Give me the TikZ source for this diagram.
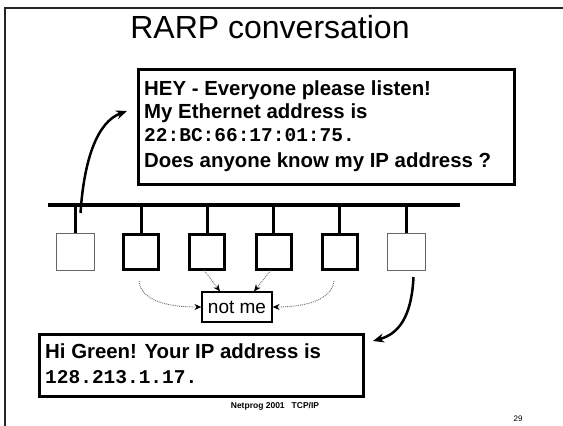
\documentclass[tikz,border=0pt]{standalone}
\usepackage{fontspec}
\setmainfont{Liberation Sans}
\setmonofont{Liberation Mono}
\usetikzlibrary{arrows.meta}
\begin{document}
\begin{tikzpicture}[x=1pt,y=-1pt,
  txt/.style={font=\fontsize{20.4}{24}\selectfont\bfseries, inner sep=0pt, anchor=base west},
  mono/.style={font=\fontsize{19.5}{24}\selectfont\ttfamily\bfseries, inner sep=0pt, anchor=base west},
  msgbox/.style={draw, line width=2.6pt, anchor=north west, inner sep=0pt},
  hoststrong/.style={draw, line width=3pt, minimum width=35pt, minimum height=35pt, inner sep=0pt},
  hostweak/.style={draw=black!60, line width=1pt, minimum width=38pt, minimum height=37pt, inner sep=0pt},
  drop/.style={line width=3pt},
  bigarrow/.style={line width=2.5pt, -{Stealth[length=11pt,width=9pt]}},
  notmearrow/.style={densely dotted, line width=0.9pt, black!60, -{Stealth[length=7pt,width=6pt,black]}}
]
\useasboundingbox (0,0) rectangle (563,426);
% slide frame
\draw[line width=2pt, black!85] (5,432) -- (5,8) -- (570,8);
% title
\node[anchor=base, inner sep=0pt, font=\fontsize{32}{36}\selectfont] (title) at (270,38) {RARP conversation};
% request box
\node[msgbox, minimum width=376pt, minimum height=115pt] (req) at (137,68) {};
\node[txt] (r1) at (144,95) {HEY - Everyone please listen!};
\node[txt] (r2) at (144,118.5) {My Ethernet address is};
\node[mono] (r3) at (144,141.5) {22:BC:66:17:01:75.};
\node[txt] (r4) at (144,167) {Does anyone know my IP address ?};
% bus
\coordinate (busL) at (48,205);
\coordinate (busR) at (460,205);
\draw[line width=3.5pt] (busL) -- (busR);
% hosts
\node[hostweak] (s1) at (75,251.5) {};
\node[hoststrong] (s2) at (141.2,251.5) {};
\node[hoststrong] (s3) at (207.4,251.5) {};
\node[hoststrong] (s4) at (273.6,251.5) {};
\node[hoststrong] (s5) at (339.8,251.5) {};
\node[hostweak] (s6) at (406,251.5) {};
\foreach \i in {1,...,6}{
  \draw[drop] (s\i.north) -- (s\i.north |- busL);
}
% request arrow
\coordinate (c1) at (80.5,213);
\coordinate (reqin) at (127,111);
\draw[bigarrow] (c1) .. controls (84,160) and (97,122) .. (reqin);
% not me
\node[draw, line width=1.2pt, minimum width=70pt, minimum height=30pt, inner sep=0pt, font=\fontsize{19}{22}\selectfont] (nm) at (237,307) {not me};
\draw[notmearrow] ([xshift=-3pt]s3.south) -- ([xshift=-17pt]nm.north);
\draw[notmearrow] ([xshift=-3pt]s4.south) -- ([xshift=17pt]nm.north);
\coordinate (d2) at (139,281);
\coordinate (d5) at (334,281);
\draw[notmearrow] (d2) .. controls (141,302) and (171,307) .. (nm.west);
\draw[notmearrow] (d5) .. controls (331,302) and (301,307) .. (nm.east);
% reply
\node[msgbox, line width=3pt, minimum width=324pt, minimum height=62pt] (rep) at (38,333) {};
\node[txt] (p1) at (45,358) {Hi Green! Your IP address is};
\node[mono] (p2) at (45,383) {128.213.1.17.};
\coordinate (c6) at (413.5,277);
\coordinate (repin) at (373,341);
\draw[bigarrow] (c6) .. controls (411.5,318) and (398,334) .. (repin);
% footer
\node[anchor=base, inner sep=0pt, font=\fontsize{8.5}{10}\selectfont\bfseries] (foot) at (275,408) {Netprog 2001\hspace{7pt}TCP/IP};
\node[anchor=base, inner sep=0pt, font=\fontsize{8}{10}\selectfont] (pg) at (518,421) {29};
\end{tikzpicture}
\end{document}
